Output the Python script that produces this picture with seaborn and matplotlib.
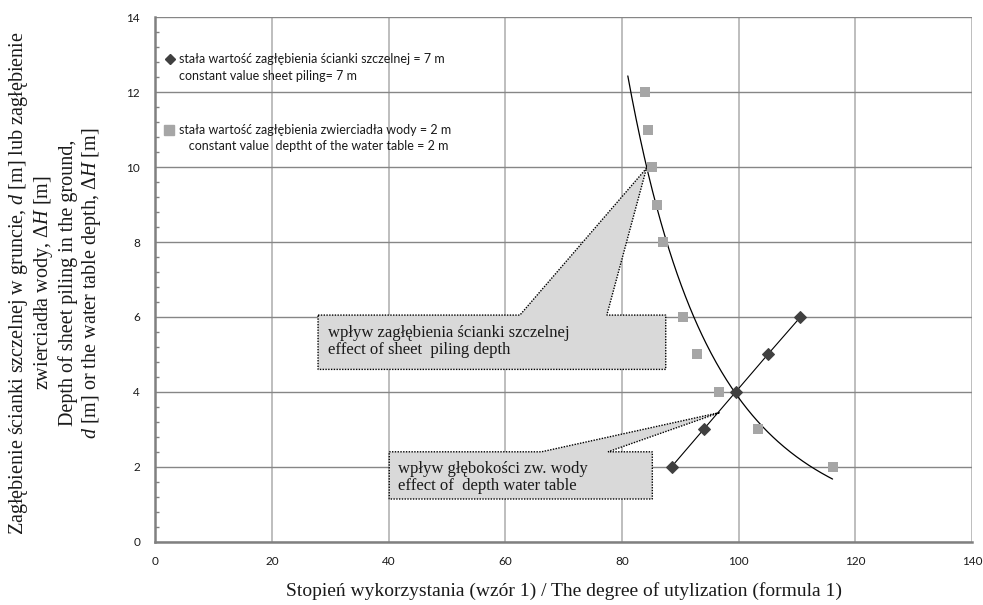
import numpy as np
import pandas as pd
import matplotlib
matplotlib.use("Agg")
import matplotlib.pyplot as plt
from matplotlib.patches import Polygon
from matplotlib.ticker import MultipleLocator
import seaborn as sns

# constant sheet piling depth = 7 m (diamonds)
pile_x = [88.5, 94.0, 99.5, 105.0, 110.6]
pile_y = [2, 3, 4, 5, 6]

# constant water table depth = 2 m (squares)
water_x = [116.1, 103.3, 96.7, 92.9, 90.4, 87.0, 86.0, 85.1, 84.5, 83.9]
water_y = [2, 3, 4, 5, 6, 8, 9, 10, 11, 12]

pile = pd.DataFrame({'x': pile_x, 'y': pile_y})
water = pd.DataFrame({'x': water_x, 'y': water_y})

sns.set_theme(style="white")
plt.rcParams['font.family'] = ['Lato', 'DejaVu Sans']
plt.rcParams['mathtext.fontset'] = 'custom'
plt.rcParams['mathtext.rm'] = 'Liberation Serif'
plt.rcParams['mathtext.it'] = 'Liberation Serif:italic'
serif = ['Liberation Serif', 'DejaVu Serif']

fig = plt.figure(figsize=(9.83, 6.05), dpi=100)
ax = fig.add_axes([155.3 / 983, 1 - 541.7 / 605, 816.7 / 983, 524.4 / 605])

# power trendline through the water-table series (like excel)
b, ln_a = np.polyfit(np.log(water['x']), np.log(water['y']), 1)
xs = np.linspace(81, 116.1, 200)
ax.plot(xs, np.exp(ln_a) * xs ** b, color='black', lw=0.9, zorder=4)

sns.lineplot(data=pile, x='x', y='y', ax=ax, color='black', lw=0.8,
             marker='D', markersize=6, markerfacecolor='#404040',
             markeredgecolor='#404040', zorder=5, sort=False)
sns.scatterplot(data=water, x='x', y='y', ax=ax, marker='s', s=60,
                color='#a6a6a6', edgecolor='#a6a6a6', linewidth=0, zorder=5)

# callouts
box1 = [(27.9, 6.05), (62.5, 6.05), (84.2, 9.97), (77.4, 6.05),
        (87.5, 6.05), (87.5, 4.60), (27.9, 4.60)]
box2 = [(40.1, 2.40), (66.2, 2.40), (96.8, 3.45), (77.6, 2.40),
        (85.2, 2.40), (85.2, 1.14), (40.1, 1.14)]
for pts in (box1, box2):
    ax.add_patch(Polygon(pts, closed=True, facecolor='#d9d9d9',
                         edgecolor='black', ls=(0, (1, 1)), lw=1, zorder=3))
ax.text(29.6, 5.34, 'wpływ zagłębienia ścianki szczelnej\neffect of sheet  piling depth',
        family=serif, fontsize=12, va='center', ha='left', color='#1a1a1a',
        linespacing=1.05, zorder=4)
ax.text(41.6, 1.72, 'wpływ głębokości zw. wody\neffect of  depth water table',
        family=serif, fontsize=12, va='center', ha='left', color='#1a1a1a',
        linespacing=1.05, zorder=4)

# legend drawn by hand so the marker sits on the first line
ax.plot([0.018], [0.920], marker='D', ms=5.5, color='#404040', ls='none',
        transform=ax.transAxes, clip_on=False)
ax.text(0.029, 0.920, 'stała wartość zagłębienia ścianki szczelnej = 7 m',
        transform=ax.transAxes, fontsize=9, va='center', color='#1a1a1a')
ax.text(0.029, 0.889, 'constant value sheet piling= 7 m',
        transform=ax.transAxes, fontsize=9, va='center', color='#1a1a1a')
ax.plot([0.017], [0.786], marker='s', ms=6.5, color='#a6a6a6', ls='none',
        transform=ax.transAxes, clip_on=False)
ax.text(0.029, 0.786, 'stała wartość zagłębienia zwierciadła wody = 2 m',
        transform=ax.transAxes, fontsize=9, va='center', color='#1a1a1a')
ax.text(0.029, 0.755, '   constant value  deptht of the water table = 2 m',
        transform=ax.transAxes, fontsize=9, va='center', color='#1a1a1a')

ax.set_xlim(0, 140)
ax.set_ylim(0, 14)
ax.xaxis.set_major_locator(MultipleLocator(20))
ax.yaxis.set_major_locator(MultipleLocator(2))
ax.yaxis.set_minor_locator(MultipleLocator(0.4))

ax.grid(axis='y', which='major', color='#868686', lw=1)
ax.grid(axis='x', which='major', color='#b3b3b3', lw=1.2)
ax.set_axisbelow(True)
for s in ('top', 'right'):
    ax.spines[s].set_visible(False)
for s in ('left', 'bottom'):
    ax.spines[s].set_color('#808080')
    ax.spines[s].set_linewidth(1.8)
    ax.spines[s].set_zorder(6)

ax.tick_params(axis='both', which='major', direction='out', length=4,
               width=1, color='#808080', labelsize=8.5, labelcolor='#1a1a1a')
ax.tick_params(axis='y', which='major', pad=7)
ax.tick_params(axis='x', which='major', pad=6)
ax.tick_params(axis='y', which='minor', direction='in', length=3,
               width=1, color='#808080', left=True)

ax.set_xlabel('Stopień wykorzystania (wzór 1) / The degree of utylization (formula 1)',
              family=serif, fontsize=14, labelpad=11, color='#1a1a1a')
ax.set_ylabel('')
fig.text(55 / 983, 1 - 283 / 605,
         'Zagłębienie ścianki szczelnej w gruncie, $d$ [m] lub zagłębienie\n'
         'zwierciadła wody, Δ$H$ [m]\n'
         'Depth of sheet piling in the ground,\n'
         '$d$ [m] or the water table depth, Δ$H$ [m]',
         family=serif, fontsize=14.5, rotation=90, ha='center', va='center',
         multialignment='center', linespacing=1.15, color='#1a1a1a')

fig.savefig('out.png', dpi=100)
